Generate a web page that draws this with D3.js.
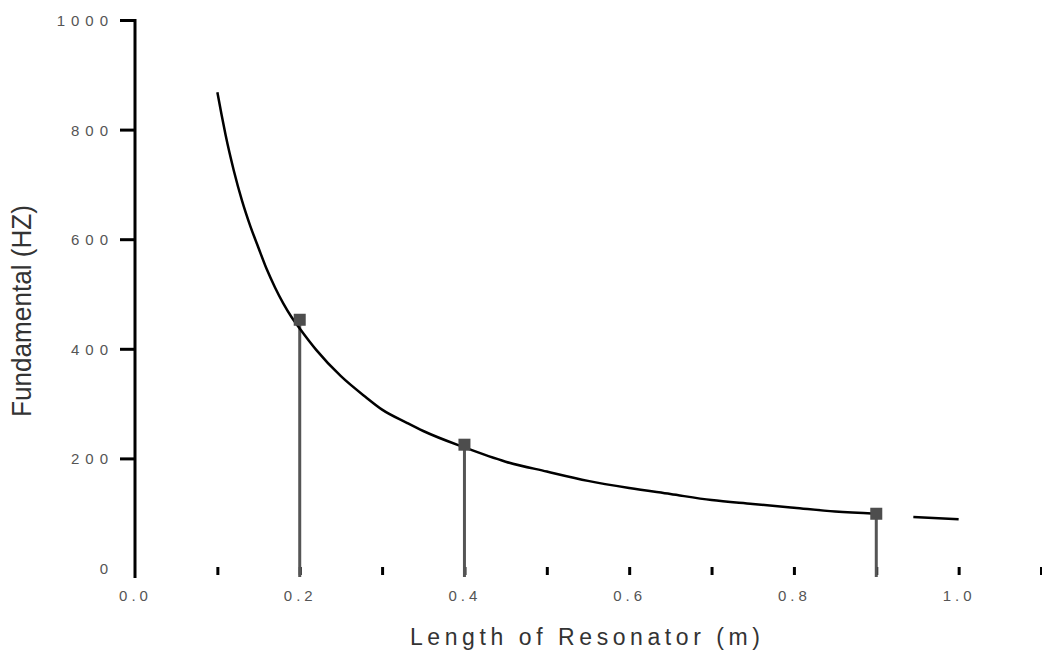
<!DOCTYPE html>
<html>
<head>
    <title>Fundamental vs Length of Resonator</title>
    <script src="https://cdn.jsdelivr.net/npm/d3@7"></script>
    <style>
        body { margin: 0; background: #fff; }
        svg { display: block; font-family: "Liberation Sans", Arial, sans-serif; }
    </style>
</head>
<body>
<script>
    // curve: resonator length (m) -> fundamental (Hz)
    var curveLength = [0.10, 0.105, 0.11, 0.12, 0.13, 0.14, 0.15, 0.16, 0.17, 0.18, 0.19, 0.20, 0.22, 0.25, 0.28, 0.30, 0.33, 0.35, 0.40, 0.45, 0.50, 0.55, 0.60, 0.65, 0.70, 0.75, 0.80, 0.85, 0.90, 0.92, 0.945, 1.00];
    var curveFreq   = [868, 828, 790, 725, 670, 624, 584, 545, 512, 483, 458, 437, 398, 350, 312, 289, 265, 250, 220, 194, 176, 159, 146, 135, 124, 117, 110, 103, 99, null, 93, 89];

    // measured points (squares with drop lines)
    var pointLength = [0.2, 0.4, 0.9];
    var pointFreq   = [453, 225, 99];

    var yTicks = [200, 400, 600, 800, 1000];
    var xMinorTicks = [0.1, 0.2, 0.3, 0.4, 0.5, 0.6, 0.7, 0.8, 0.9, 1.0, 1.1];
    var xLabelTicks = [0.0, 0.2, 0.4, 0.6, 0.8, 1.0];
    var xTickLabels = ["0.0", "0.2", "0.4", "0.6", "0.8", "1.0"];
    var yLabelTicks = [0, 200, 400, 600, 800, 1000];
    var yLabelText  = ["0", "200", "400", "600", "800", "1000"];

    var width = 1042;
    var height = 652;

    var svg = d3.select("body")
        .append("svg")
        .attr("width", width)
        .attr("height", height);

    var x = d3.scaleLinear().domain([0, 1.1]).range([135, 1041]);
    var y = d3.scaleLinear().domain([0, 1000]).range([568, 20]);

    // y axis line runs a bit below zero
    svg.append("line")
        .attr("x1", x(0)).attr("x2", x(0))
        .attr("y1", y(1000) - 1).attr("y2", 578)
        .attr("stroke", "#000")
        .attr("stroke-width", 3);

    var yAxis = svg.append("g")
        .attr("transform", "translate(" + x(0) + ",0)")
        .call(d3.axisLeft(y).tickValues(yTicks).tickSize(15).tickFormat(""));
    yAxis.select(".domain").remove();
    yAxis.selectAll(".tick line").attr("stroke", "#000").attr("stroke-width", 3);

    var yLab = svg.append("g")
        .attr("transform", "translate(" + (x(0) - 21) + ",0)")
        .call(d3.axisLeft(y).tickValues(yLabelTicks).tickSize(0)
            .tickFormat(function(d, i) { return yLabelText[i]; }));
    yLab.select(".domain").remove();
    yLab.selectAll("text")
        .attr("x", 0)
        .attr("dy", "0.36em")
        .style("font-size", "15px")
        .style("letter-spacing", "6px")
        .style("font-family", "'Liberation Sans', Arial, sans-serif")
        .attr("fill", "#555");

    // x axis: ticks only, no line
    var xAxis = svg.append("g")
        .attr("transform", "translate(0,567)")
        .call(d3.axisBottom(x).tickValues(xMinorTicks).tickSize(8).tickFormat(""));
    xAxis.select(".domain").remove();
    xAxis.selectAll(".tick line").attr("stroke", "#000").attr("stroke-width", 3);

    var xLab = svg.append("g")
        .attr("transform", "translate(0,590)")
        .call(d3.axisBottom(x).tickValues(xLabelTicks).tickSize(0)
            .tickFormat(function(d, i) { return xTickLabels[i]; }));
    xLab.select(".domain").remove();
    xLab.selectAll("text")
        .attr("y", 0)
        .attr("dy", "0.75em")
        .style("font-size", "15px")
        .style("letter-spacing", "4px")
        .style("font-family", "'Liberation Sans', Arial, sans-serif")
        .attr("fill", "#555");

    // drop lines and squares
    var pts = pointLength.map(function(d, i) { return [d, pointFreq[i]]; });

    svg.append("g").selectAll("line")
        .data(pts)
        .enter()
        .append("line")
        .attr("x1", function(d) { return x(d[0]); })
        .attr("x2", function(d) { return x(d[0]); })
        .attr("y1", function(d) { return y(d[1]); })
        .attr("y2", 577)
        .attr("stroke", "#555")
        .attr("stroke-width", 3);

    // the curve
    var curve = curveLength.map(function(d, i) { return [d, curveFreq[i]]; });
    var line = d3.line()
        .defined(function(d) { return d[1] !== null; })
        .x(function(d) { return x(d[0]); })
        .y(function(d) { return y(d[1]); })
        .curve(d3.curveMonotoneX);

    svg.append("path")
        .datum(curve)
        .attr("fill", "none")
        .attr("stroke", "#000")
        .attr("stroke-width", 2.5)
        .attr("d", line);

    svg.append("g").selectAll("rect")
        .data(pts)
        .enter()
        .append("rect")
        .attr("x", function(d) { return x(d[0]) - 6; })
        .attr("y", function(d) { return y(d[1]) - 6; })
        .attr("width", 12)
        .attr("height", 12)
        .attr("fill", "#4d4d4d");

    // titles
    svg.append("text")
        .attr("x", 585)
        .attr("y", 645)
        .attr("text-anchor", "middle")
        .attr("textLength", 350)
        .attr("lengthAdjust", "spacing")
        .style("font-size", "23px")
        .attr("fill", "#333")
        .text("Length of Resonator (m)");

    svg.append("text")
        .attr("transform", "translate(31,311) rotate(-90)")
        .attr("text-anchor", "middle")
        .attr("textLength", 212)
        .attr("lengthAdjust", "spacingAndGlyphs")
        .style("font-size", "28px")
        .attr("fill", "#333")
        .text("Fundamental (HZ)");
</script>
</body>
</html>
